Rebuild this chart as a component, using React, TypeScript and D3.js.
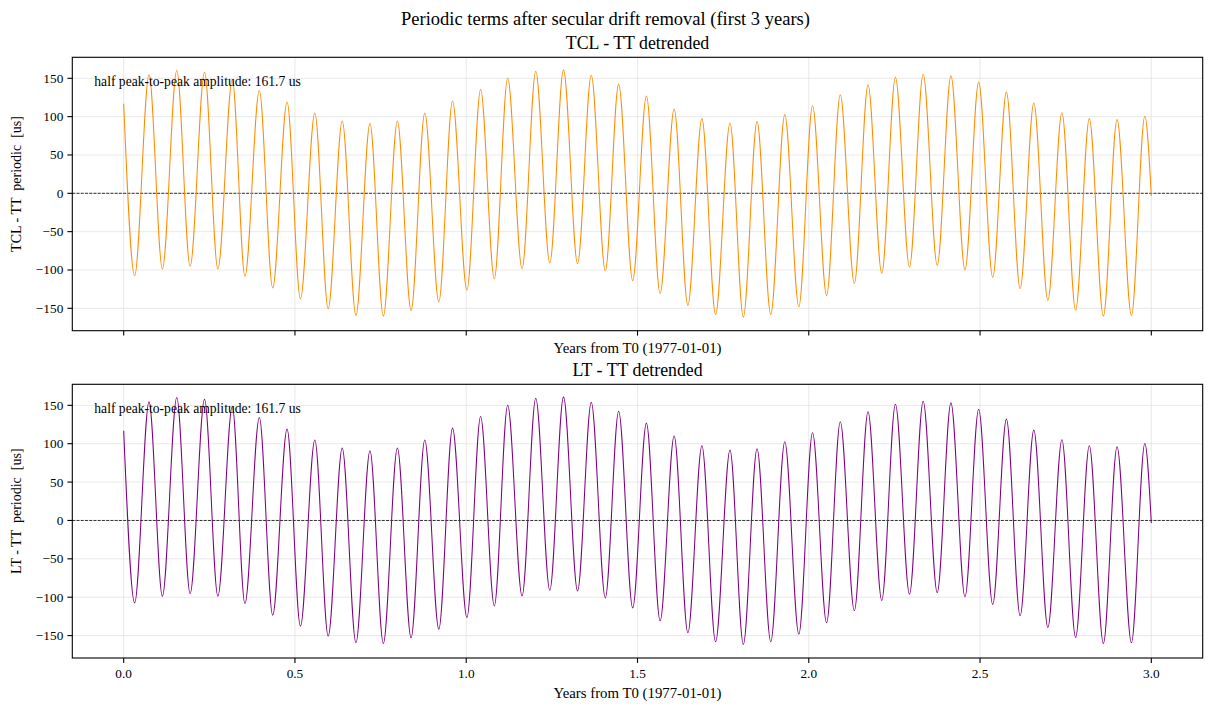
import React from "react";
import * as d3 from "d3";

// Extrema of the detrended periodic signal (years from T0, microseconds)
const times: number[] = [
  0.0, 0.032, 0.074, 0.113, 0.155, 0.194, 0.236, 0.275, 0.317, 0.354,
  0.396, 0.435, 0.477, 0.516, 0.558, 0.597, 0.638, 0.678, 0.719, 0.758,
  0.799, 0.839, 0.879, 0.92, 0.96, 1.002, 1.042, 1.082, 1.121, 1.163,
  1.203, 1.244, 1.284, 1.325, 1.365, 1.406, 1.445, 1.486, 1.526, 1.566,
  1.607, 1.647, 1.688, 1.728, 1.77, 1.809, 1.849, 1.889, 1.93, 1.971,
  2.011, 2.052, 2.092, 2.133, 2.173, 2.213, 2.253, 2.294, 2.334, 2.375,
  2.415, 2.456, 2.496, 2.537, 2.577, 2.617, 2.657, 2.698, 2.739, 2.779,
  2.819, 2.86, 2.9, 2.942, 2.981, 3.0,
];

const tclValues: number[] = [
  116.9, -107.4, 154.5, -98.7, 160.2, -95.2, 158.0, -98.7, 148.5, -108.2,
  134.2, -123.4, 119.0, -137.7, 104.8, -150.6, 94.4, -159.3, 90.9, -160.2,
  94.4, -152.8, 104.8, -141.6, 120.3, -126.4, 135.5, -111.3, 150.2, -98.3,
  159.3, -90.9, 161.0, -91.8, 154.1, -100.9, 142.4, -113.9, 126.8, -130.7,
  110.0, -146.3, 97.4, -158.0, 91.8, -161.5, 93.5, -158.0, 102.6, -148.1,
  114.3, -133.3, 128.6, -117.7, 141.6, -104.3, 151.5, -96.1, 155.4, -93.9,
  153.2, -99.6, 145.0, -109.5, 132.0, -124.2, 117.7, -139.4, 105.2, -152.4,
  97.4, -160.2, 96.1, -159.3, 100.4, -3.5,
];

const ltValues: number[] = tclValues.slice();

const xTicks: number[] = [0, 0.5, 1.0, 1.5, 2.0, 2.5, 3.0];
const yTicks: number[] = [-150, -100, -50, 0, 50, 100, 150];

const panels = [
  {
    title: "TCL - TT detrended",
    ylabel: "TCL - TT  periodic  [us]",
    values: tclValues,
    color: "#ff8c00",
    note: "half peak-to-peak amplitude: 161.7 us",
    showXTickLabels: false,
  },
  {
    title: "LT - TT detrended",
    ylabel: "LT - TT  periodic  [us]",
    values: ltValues,
    color: "#800080",
    note: "half peak-to-peak amplitude: 161.7 us",
    showXTickLabels: true,
  },
];

const W = 1211;
const H = 711;
const FONT = "'Liberation Serif', 'Times New Roman', serif";
const left = 72.3;
const right = 1202.7;
const panelBoxes = [
  { top: 57.3, bottom: 330.7 },
  { top: 384.3, bottom: 658 },
];

function fmtTick(v: number): string {
  const s = d3.format(".0f")(Math.abs(v));
  return v < 0 ? "\u2212" + s : s;
}

function Panel({ p, box }: { p: (typeof panels)[number]; box: { top: number; bottom: number } }) {
  const x = d3.scaleLinear().domain([-0.15, 3.15]).range([left, right]);
  const y = d3.scaleLinear().domain([-179.2, 177.4]).range([box.bottom, box.top]);
  const pts: [number, number][] = times.map((t, i) => [t, p.values[i]]);
  const line = d3
    .line<[number, number]>()
    .x((d) => x(d[0]))
    .y((d) => y(d[1]))
    .curve(d3.curveMonotoneX);
  const cx = (left + right) / 2;
  const cy = (box.top + box.bottom) / 2;
  const clipId = "clip" + Math.round(box.top);
  return (
    <g>
      <defs>
        <clipPath id={clipId}>
          <rect x={left} y={box.top} width={right - left} height={box.bottom - box.top} />
        </clipPath>
      </defs>
      {xTicks.map((t) => (
        <line key={"gx" + t} x1={x(t)} x2={x(t)} y1={box.top} y2={box.bottom} stroke="#e3e3e3" strokeWidth={0.8} />
      ))}
      {yTicks.map((t) => (
        <line key={"gy" + t} x1={left} x2={right} y1={y(t)} y2={y(t)} stroke="#e3e3e3" strokeWidth={0.8} />
      ))}
      <line x1={left} x2={right} y1={y(0)} y2={y(0)} stroke="#000" strokeWidth={0.8} strokeDasharray="2.96,1.28" />
      <path d={line(pts) || ""} fill="none" stroke={p.color} strokeWidth={1.05} clipPath={`url(#${clipId})`} />
      <rect x={left} y={box.top} width={right - left} height={box.bottom - box.top} fill="none" stroke="#000" strokeWidth={1.1} />
      {yTicks.map((t) => (
        <g key={"ty" + t}>
          <line x1={left - 4.9} x2={left} y1={y(t)} y2={y(t)} stroke="#000" strokeWidth={1.1} />
          <text x={left - 9} y={y(t)} textAnchor="end" dominantBaseline="central" fontSize={13.3} fontFamily={FONT} fill="#000">
            {fmtTick(t)}
          </text>
        </g>
      ))}
      {xTicks.map((t) => (
        <g key={"tx" + t}>
          <line x1={x(t)} x2={x(t)} y1={box.bottom} y2={box.bottom + 4.9} stroke="#000" strokeWidth={1.1} />
          {p.showXTickLabels && (
            <text x={x(t)} y={box.bottom + 20} textAnchor="middle" fontSize={13.3} fontFamily={FONT} fill="#000">
              {d3.format(".1f")(t)}
            </text>
          )}
        </g>
      ))}
      <text x={cx} y={box.bottom + (p.showXTickLabels ? 40 : 22.6)} textAnchor="middle" fontSize={14.8} fontFamily={FONT} fill="#000">
        Years from T0 (1977-01-01)
      </text>
      <text
        transform={`translate(20.5, ${cy - 10}) rotate(-90)`}
        textAnchor="middle"
        fontSize={14}
        fontFamily={FONT}
        fill="#000"
        style={{ whiteSpace: "pre" }}
      >
        {p.ylabel}
      </text>
      <text x={cx} y={box.top - 8.3} textAnchor="middle" fontSize={17.8} fontFamily={FONT} fill="#000">
        {p.title}
      </text>
      <text x={left + 22} y={box.top + 28.4} fontSize={13.6} fontFamily={FONT} fill="#000">
        {p.note}
      </text>
    </g>
  );
}

export default function App() {
  return (
    <svg
      width={W}
      height={H}
      viewBox={`0 0 ${W} ${H}`}
      style={{ position: "absolute", left: 0, top: 0, background: "#fff" }}
    >
      <rect x={0} y={0} width={W} height={H} fill="#fff" />
      <text x={W / 2} y={25} textAnchor="middle" fontSize={18.5} fontFamily={FONT} fill="#000">
        Periodic terms after secular drift removal (first 3 years)
      </text>
      {panels.map((p, i) => (
        <Panel key={p.title} p={p} box={panelBoxes[i]} />
      ))}
    </svg>
  );
}
